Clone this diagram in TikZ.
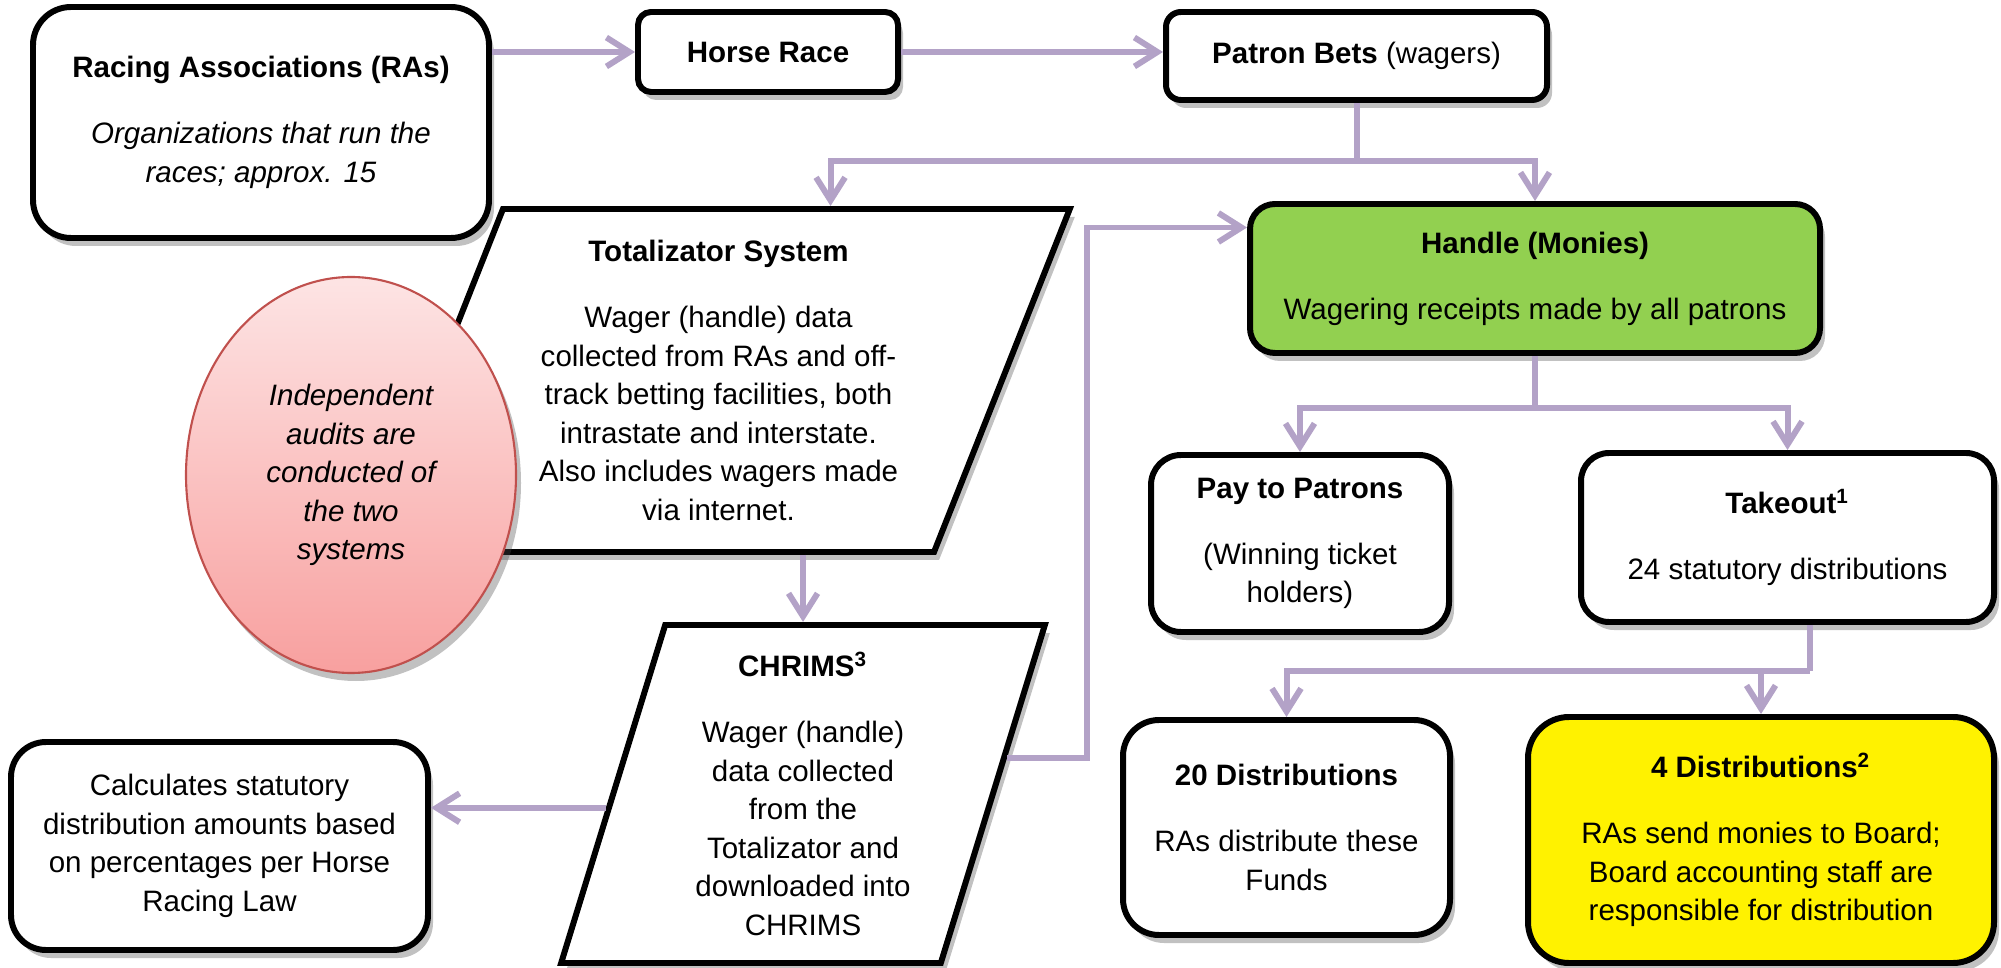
\documentclass[tikz,border=0pt]{standalone}
\usepackage{fontspec}
\setmainfont{Liberation Sans}
\usetikzlibrary{arrows.meta,shapes.geometric,shadows,calc}
\definecolor{linkpurple}{HTML}{B3A2C7}
\definecolor{handlegreen}{HTML}{92D050}
\definecolor{auditlight}{HTML}{FDE4E4}
\definecolor{auditdark}{HTML}{F8A09F}
\definecolor{auditline}{HTML}{C0504D}

\begin{document}
\begin{tikzpicture}[>={Straight Barb[length=2.3mm,width=2.9mm]},
    font=\fontsize{8.4pt}{10.95pt}\selectfont,
    shade/.style={drop shadow={shadow xshift=0.05cm, shadow yshift=-0.08cm, opacity=0.35, fill=black!70}},
    box/.style={draw, line width=1.7pt, rounded corners=#1, fill=white, align=center, inner sep=2pt, shade},
    box/.default=0.3cm,
    data/.style={draw, line width=1.7pt, trapezium, trapezium stretches=true, fill=white, align=center, inner sep=0pt, shade},
    link/.style={->, linkpurple, line width=1.7pt}]
    \useasboundingbox (0,0) rectangle (20.01,-9.68);
    \node[box=0.38cm, minimum width=4.56cm, minimum height=2.31cm] (ras) at (2.61,-1.225) {\textbf{Racing Associations (RAs)}\\[2.75mm] \textit{Organizations that run the}\\ \textit{races; approx. 15}};
    \node[box=0.13cm, minimum width=2.6cm, minimum height=0.8cm] (hrace) at (7.68,-0.52) {\textbf{Horse Race}};
    \node[box=0.15cm, minimum width=3.81cm, minimum height=0.88cm] (bets) at (13.565,-0.56) {\textbf{Patron Bets} (wagers)};
    \node[data, trapezium left angle=68, trapezium right angle=112, minimum width=7.03cm, minimum height=3.43cm] (tot) at (7.185,-3.805) {\textbf{Totalizator System}\\[2.75mm] Wager (handle) data\\ collected from RAs and off-\\ track betting facilities, both\\ intrastate and interstate.\\ Also includes wagers made\\ via internet.};
    \node[ellipse, draw=auditline, line width=0.6pt, top color=auditlight, bottom color=auditdark, minimum width=3.3cm, minimum height=3.96cm, inner sep=0pt, align=center, font=\fontsize{8.4pt}{10.95pt}\selectfont\itshape, shade] (aud) at (3.51,-4.75) {Independent\\ audits are\\ conducted of\\ the two\\ systems};
    \node[data, trapezium left angle=74, trapezium right angle=106, minimum width=4.84cm, minimum height=3.38cm] (chr) at (8.03,-7.94) {\textbf{CHRIMS\textsuperscript{3}}\\[2.75mm] Wager (handle)\\ data collected\\ from the\\ Totalizator and\\ downloaded into\\ CHRIMS};
    \node[box=0.35cm, minimum width=4.17cm, minimum height=2.08cm] (calc) at (2.195,-8.46) {Calculates statutory\\ distribution amounts based\\ on percentages per Horse\\ Racing Law};
    \node[box=0.25cm, fill=handlegreen, minimum width=5.7cm, minimum height=1.49cm] (handle) at (15.35,-2.785) {\textbf{Handle (Monies)}\\[2.75mm] Wagering receipts made by all patrons};
    \node[box=0.3cm, minimum width=2.98cm, minimum height=1.77cm] (pay) at (13.0,-5.435) {\textbf{Pay to Patrons}\\[2.75mm] (Winning ticket\\ holders)};
    \node[box=0.28cm, minimum width=4.13cm, minimum height=1.69cm] (take) at (17.875,-5.375) {\textbf{Takeout\textsuperscript{1}}\\[2.75mm] 24 statutory distributions};
    \node[box=0.36cm, minimum width=3.27cm, minimum height=2.15cm] (d20) at (12.865,-8.275) {\textbf{20 Distributions}\\[2.75mm] RAs distribute these\\ Funds};
    \node[box=0.41cm, fill=yellow, minimum width=4.66cm, minimum height=2.46cm] (d4) at (17.61,-8.4) {\textbf{4 Distributions\textsuperscript{2}}\\[2.75mm] RAs send monies to Board;\\ Board accounting staff are\\ responsible for distribution};
    \draw[link] (ras.east |- hrace.west) -- (hrace.west);
    \draw[link] (hrace.east) -- (hrace.east -| bets.west);
    \draw[link, -] (bets.south) -- ++(0,-0.58) coordinate (betsplit);
    \draw[link] (betsplit) -| (handle.north);
    \draw[link] (betsplit) -| ($(tot.north)+(1.12,0)$);
    \draw[link] (tot.south -| chr.north) -- (chr.north);
    \draw[link] (chr.184) -- (chr.184 -| calc.east);
    \draw[link] (chr.10) -- ++(0.8,0) |- ($(handle.west)+(0,0.51)$);
    \draw[link, -] (handle.south) -- ++(0,-0.52) coordinate (handlesplit);
    \draw[link] (handlesplit) -| (pay.north);
    \draw[link] (handlesplit) -| (take.north);
    \draw[link, -] ($(take.south)+(0.22,0)$) -- ++(0,-0.46) coordinate (takesplit);
    \draw[link] (takesplit) -| (d20.north);
    \draw[link] (takesplit) -| (d4.north);
\end{tikzpicture}
\end{document}
